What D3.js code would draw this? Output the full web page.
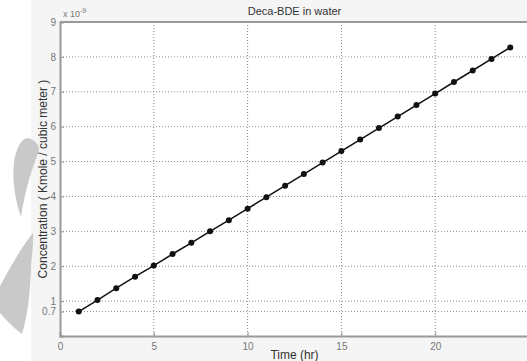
<!DOCTYPE html>
<html lang="en">
<head>
  <meta charset="UTF-8">
  <script src="https://cdnjs.cloudflare.com/ajax/libs/d3/7.8.5/d3.min.js"></script>
  <style>
    body { margin: 0; background: #fff; font-family: 'Liberation Sans', Arial, sans-serif; }
    svg { display: block; }
  </style>
  <title>Deca-BDE in water</title>
</head>
<body>
  <div id="chart"></div>
<script>
  // time in hours, concentration in 1e-9 kmole / m^3
  const hours = [1, 2, 3, 4, 5, 6, 7, 8, 9, 10, 11, 12, 13, 14, 15, 16, 17, 18, 19, 20, 21, 22, 23, 24];
  const conc = [0.70, 1.03, 1.37, 1.70, 2.02, 2.35, 2.67, 3.00, 3.32, 3.65, 3.98, 4.31, 4.64, 4.97, 5.30, 5.63, 5.96, 6.29, 6.62, 6.95, 7.28, 7.61, 7.94, 8.27];
  const xTicks = [0, 5, 10, 15, 20];
  const yTicks = [0.7, 1, 2, 3, 4, 5, 6, 7, 8, 9];
  const title = "Deca-BDE in water";
  const xLabel = "Time (hr)";
  const yLabel = "Concentration ( Kmole / cubic meter )";

  const W = 527, H = 361;
  const margin = { top: 22, right: -2, bottom: 25, left: 60 };
  const width = W - margin.left - margin.right,
    height = H - margin.top - margin.bottom;

  const svg = d3.select("#chart").append("svg")
    .attr("width", W).attr("height", H);

  // figure background (slightly grey) and the watermark on the left
  svg.append("rect").attr("x", 31).attr("y", 0).attr("width", W - 31).attr("height", H)
    .attr("fill", "#f5f5f5");
  svg.append("path")
    .attr("d", "M27,138 C34,139 40,145 39,151 C33,165 25,190 21,217 C15,200 12,180 14,162 C16,150 20,140 27,138 Z")
    .attr("fill", "#c9c9c9");
  svg.append("path")
    .attr("d", "M0,286 C10,268 22,246 33,233 C34,245 31,258 31,270 C30,292 28,315 22,334 C14,328 6,320 0,313 Z")
    .attr("fill", "#c9c9c9");

  const g = svg.append("g")
    .attr("transform", "translate(" + margin.left + "," + margin.top + ")");

  const x = d3.scaleLinear().domain([0, 25]).range([0, width]);
  const y = d3.scaleLinear().domain([0, 9]).range([height, 0]);

  g.append("rect").attr("width", width).attr("height", height).attr("fill", "#fff");

  // grid
  g.append("g").selectAll("line").data(xTicks.filter(d => d > 0)).join("line")
    .attr("x1", d => x(d)).attr("x2", d => x(d)).attr("y1", 0).attr("y2", height)
    .attr("stroke", "#8a8a8a").attr("stroke-dasharray", "1,2");
  g.append("g").selectAll("line").data(yTicks.filter(d => d < 9)).join("line")
    .attr("x1", 0).attr("x2", width).attr("y1", d => y(d)).attr("y2", d => y(d))
    .attr("stroke", "#8a8a8a").attr("stroke-dasharray", "1,2");

  // axes
  const xAxis = g.append("g").attr("transform", "translate(0," + height + ")")
    .call(d3.axisBottom(x).tickValues(xTicks).tickSize(-4).tickPadding(7));
  const yAxis = g.append("g")
    .call(d3.axisLeft(y).tickValues(yTicks).tickSize(-4).tickPadding(4).tickFormat(d3.format("~g")));
  [xAxis, yAxis].forEach(a => {
    a.select(".domain").attr("stroke", "#999").attr("stroke-width", 2);
    a.selectAll(".tick line").attr("stroke", "#999");
    a.selectAll(".tick text").attr("fill", "#777").style("font-size", "10px")
      .style("font-family", "'Liberation Sans', Arial, sans-serif");
  });
  // top border of box
  g.append("line").attr("x1", 0).attr("x2", width).attr("y1", 0).attr("y2", 0)
    .attr("stroke", "#999").attr("stroke-width", 2);

  // exponent
  const ex = g.append("text").attr("x", 3).attr("y", -5).attr("fill", "#777")
    .style("font-size", "9px");
  ex.append("tspan").text("x 10");
  ex.append("tspan").attr("dy", -4).style("font-size", "7px").text("-9");

  // line + markers
  const pts = hours.map((h, i) => [h, conc[i]]);
  g.append("path").datum(pts)
    .attr("fill", "none").attr("stroke", "#111").attr("stroke-width", 1.5)
    .attr("d", d3.line().x(d => x(d[0])).y(d => y(d[1])));
  g.append("g").selectAll("circle").data(pts).join("circle")
    .attr("cx", d => x(d[0])).attr("cy", d => y(d[1])).attr("r", 3)
    .attr("fill", "#111");

  // labels
  svg.append("text").attr("x", margin.left + x(12.5)).attr("y", 15)
    .attr("text-anchor", "middle").attr("fill", "#333").style("font-size", "11px").text(title);
  svg.append("text").attr("x", margin.left + x(12.5)).attr("y", 359)
    .attr("text-anchor", "middle").attr("fill", "#333").style("font-size", "12px").text(xLabel);
  svg.append("text")
    .attr("transform", "translate(47," + (margin.top + height / 2) + ") rotate(-90)")
    .attr("text-anchor", "middle").attr("fill", "#333").style("font-size", "12px").text(yLabel);
</script>
</body>
</html>
